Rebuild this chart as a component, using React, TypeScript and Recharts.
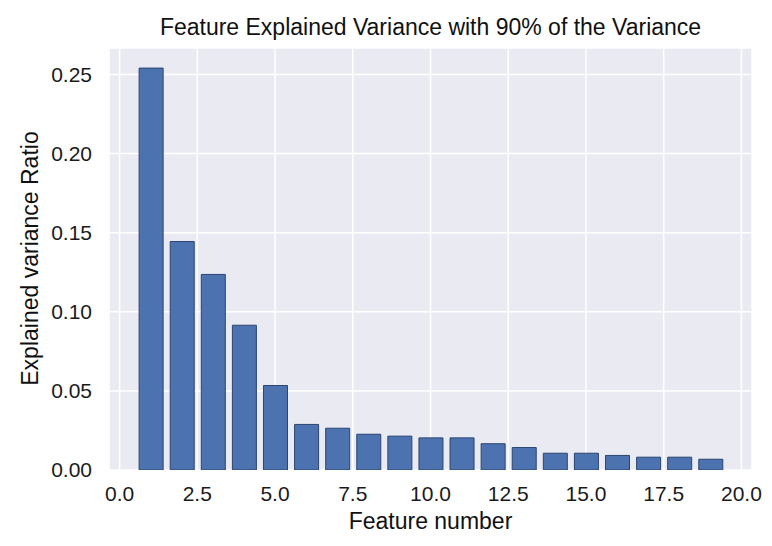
import { BarChart, Bar, XAxis, YAxis, CartesianGrid } from "recharts";

// explained variance per principal component
const features = [1, 2, 3, 4, 5, 6, 7, 8, 9, 10, 11, 12, 13, 14, 15, 16, 17, 18, 19];
const variance = [
  0.254, 0.1444, 0.1236, 0.0915, 0.0534, 0.0288, 0.0264, 0.0226, 0.0214, 0.0203,
  0.0203, 0.0166, 0.0142, 0.0106, 0.0106, 0.0092, 0.0081, 0.0081, 0.0068,
];
const xTicks = [0, 2.5, 5, 7.5, 10, 12.5, 15, 17.5, 20];
const yTicks = [0, 0.05, 0.1, 0.15, 0.2, 0.25];

const data = features.map((f, i) => ({ feature: f, ratio: variance[i] }));

const font = "'Liberation Sans', Arial, sans-serif";

export default function App() {
  return (
    <div style={{ position: "relative", width: 764, height: 530, fontFamily: font, background: "#fff" }}>
      <div
        style={{
          position: "absolute",
          left: 101,
          width: 643,
          top: 6,
          textAlign: "center",
          fontSize: 23,
          color: "#111",
          whiteSpace: "nowrap",
        }}
      >
        Feature Explained Variance with 90% of the Variance
      </div>
      <div
        style={{
          position: "absolute",
          left: 101,
          width: 643,
          top: 500,
          textAlign: "center",
          fontSize: 23,
          color: "#111",
        }}
      >
        Feature number
      </div>
      <div
        style={{
          position: "absolute",
          left: 22 - 150,
          top: 237,
          width: 300,
          textAlign: "center",
          fontSize: 23,
          color: "#111",
          transform: "rotate(-90deg)",
        }}
      >
        Explained variance Ratio
      </div>
      <BarChart
        width={764}
        height={530}
        data={data}
        margin={{ top: 40, right: 20, left: 41, bottom: 18 }}
        style={{ position: "absolute", left: 0, top: 0 }}
      >
        <CartesianGrid fill="#EAEAF2" stroke="#ffffff" strokeWidth={1.5} />
        <XAxis
          dataKey="feature"
          type="number"
          domain={[-0.34, 20.34]}
          ticks={xTicks}
          allowDataOverflow
          tickFormatter={(v: number) => v.toFixed(1)}
          axisLine={false}
          tickLine={false}
          tickSize={0}
          tickMargin={16}
          height={50}
          tick={{ fontSize: 21, fill: "#1a1a1a", fontFamily: font }}
        />
        <YAxis
          type="number"
          domain={[0, 0.2667]}
          ticks={yTicks}
          allowDataOverflow
          tickFormatter={(v: number) => v.toFixed(2)}
          axisLine={false}
          tickLine={false}
          tickSize={0}
          tickMargin={17}
          width={60}
          tick={{ fontSize: 21, fill: "#1a1a1a", fontFamily: font }}
        />
        <Bar
          dataKey="ratio"
          fill="#4C72B0"
          stroke="#2b4670"
          strokeWidth={1}
          barSize={24}
          isAnimationActive={false}
        />
      </BarChart>
    </div>
  );
}
